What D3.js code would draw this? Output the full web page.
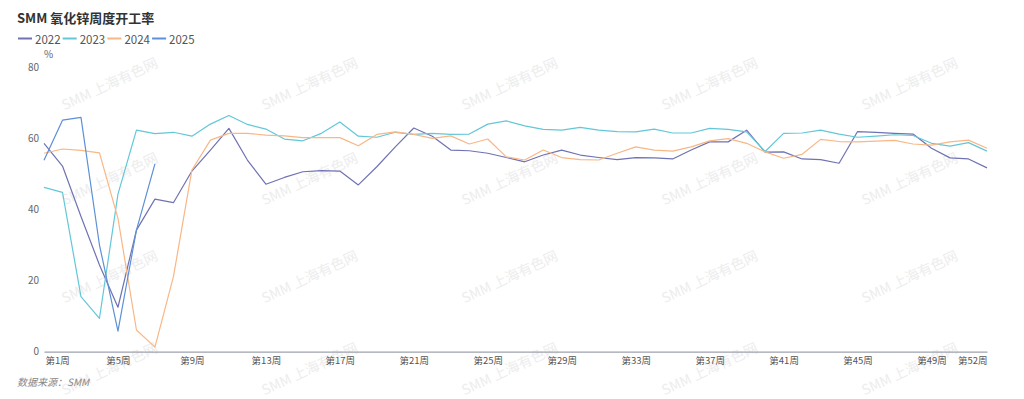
<!DOCTYPE html>
<html>
<head>
<meta charset="utf-8">
<script src="https://cdn.jsdelivr.net/npm/d3@7"></script>
<style>
html,body{margin:0;padding:0;background:#fff;}
svg{display:block;font-family:"Noto Sans CJK SC","Noto Sans",sans-serif;}
</style>
</head>
<body>
<svg id="chart" width="1024" height="399"></svg>
<script>
const weeks = d3.range(1, 53);
const tickWeeks = [1, 5, 9, 13, 17, 21, 25, 29, 33, 37, 41, 45, 49, 52];
const yTicks = [0, 20, 40, 60, 80];
const seriesNames = ["2022", "2023", "2024", "2025"];
const colors = ["#6f72b3", "#63c7d8", "#f8b785", "#5d90d6"];

const v2022 = [58.6, 52.2, 38.0, 24.4, 12.5, 34.2, 42.9, 41.9, 50.8, 56.7, 62.8, 53.9, 47.1, 49.0, 50.6, 50.9, 50.8, 46.9, 52.0, 57.6, 62.9, 60.6, 56.7, 56.5, 55.8, 54.6, 53.4, 55.3, 56.7, 55.3, 54.6, 54.0, 54.6, 54.5, 54.2, 56.7, 59.0, 59.0, 62.3, 56.1, 56.2, 54.2, 54.0, 53.0, 61.9, 61.7, 61.4, 61.2, 57.2, 54.5, 54.2, 51.7];
const v2023 = [46.2, 44.8, 15.5, 9.4, 44.3, 62.3, 61.3, 61.7, 60.6, 64.0, 66.4, 63.9, 62.6, 59.8, 59.3, 61.4, 64.6, 60.6, 60.3, 61.7, 61.1, 61.4, 61.1, 61.2, 64.0, 64.9, 63.5, 62.5, 62.3, 63.1, 62.3, 61.9, 61.8, 62.6, 61.5, 61.5, 62.8, 62.5, 61.8, 56.3, 61.4, 61.5, 62.3, 61.2, 60.3, 60.6, 61.0, 60.8, 58.6, 57.8, 58.8, 56.4];
const v2024 = [55.8, 57.0, 56.6, 55.9, 37.5, 6.1, 1.3, 21.1, 51.1, 59.5, 61.4, 61.4, 60.9, 60.7, 60.2, 60.2, 60.2, 57.9, 61.1, 61.8, 61.1, 60.0, 60.7, 58.4, 59.8, 54.8, 53.9, 56.7, 54.6, 54.0, 53.9, 55.8, 57.6, 56.7, 56.4, 57.6, 59.3, 59.9, 58.6, 56.2, 54.4, 55.5, 59.7, 59.1, 59.0, 59.2, 59.4, 58.4, 58.1, 59.0, 59.5, 57.2];
const v2025 = [53.8, 65.1, 65.9, 30.0, 5.8, 34.2, 52.8];

const allSeries = [v2022, v2023, v2024, v2025];

const svg = d3.select("#chart");

// watermark
const wmX = [110, 310, 510, 710, 910];
const wmY = [85, 180, 278, 370];
const wm = svg.append("g");
wmY.forEach(yy => wmX.forEach(xx => {
  wm.append("text")
    .attr("transform", `translate(${xx},${yy}) rotate(-25)`)
    .attr("text-anchor", "middle")
    .attr("dominant-baseline", "middle")
    .attr("font-size", 14)
    .attr("fill", "#ededed")
    .text("SMM 上海有色网");
}));

const x = d3.scalePoint().domain(weeks).range([44, 987]);
const y = d3.scaleLinear().domain([0, 80]).range([351.7, 67.2]);

// title
svg.append("text").attr("x", 17).attr("y", 23)
  .attr("font-size", 13).attr("font-weight", "bold").attr("fill", "#333")
  .text("SMM 氧化锌周度开工率");

// legend
const lg = svg.append("g");
seriesNames.forEach((n, i) => {
  const gx = 18 + i * 44.7;
  lg.append("line").attr("x1", gx).attr("x2", gx + 14).attr("y1", 38.5).attr("y2", 38.5)
    .attr("stroke", colors[i]).attr("stroke-width", 2);
  lg.append("text").attr("x", gx + 17).attr("y", 38.5).attr("dominant-baseline", "central")
    .attr("font-size", 11.5).attr("fill", "#555").text(n);
});

// y axis labels
svg.append("text").attr("x", 48.5).attr("y", 53).attr("text-anchor", "middle")
  .attr("dominant-baseline", "central").attr("font-size", 10).attr("fill", "#666").text("%");
const yAxis = d3.axisLeft(y).tickValues(yTicks).tickSize(0).tickPadding(0);
const ya = svg.append("g").attr("transform", "translate(39,0)").call(yAxis);
ya.select(".domain").remove();
ya.selectAll("text").attr("font-size", 10).attr("fill", "#666")
  .attr("font-family", '"Noto Sans CJK SC","Noto Sans",sans-serif');

// x axis
const xAxis = d3.axisBottom(x).tickValues(tickWeeks).tickSize(0).tickPadding(6)
  .tickFormat(d => "第" + d + "周");
const xa = svg.append("g").attr("transform", `translate(0,${y(0)})`).call(xAxis);
xa.select(".domain").attr("stroke", "#9ea2ae").attr("stroke-width", 1.2);
xa.selectAll("text").attr("font-size", 9.5).attr("fill", "#555")
  .attr("font-family", '"Noto Sans CJK SC","Noto Sans",sans-serif')
  .attr("text-anchor", d => d === 1 ? "start" : (d === 52 ? "end" : "middle"))
  .attr("dx", d => d === 1 ? 1 : 0);

// lines
const line = d3.line().x((d, i) => x(weeks[i])).y(d => y(d));
allSeries.forEach((s, i) => {
  svg.append("path").datum(s).attr("d", line).attr("fill", "none")
    .attr("stroke", colors[i]).attr("stroke-width", 1.2).attr("stroke-linejoin", "round");
});

// source
svg.append("text").attr("x", 17).attr("y", 386).attr("font-size", 10)
  .attr("font-style", "italic").attr("fill", "#888").text("数据来源：SMM");
</script>
</body>
</html>
